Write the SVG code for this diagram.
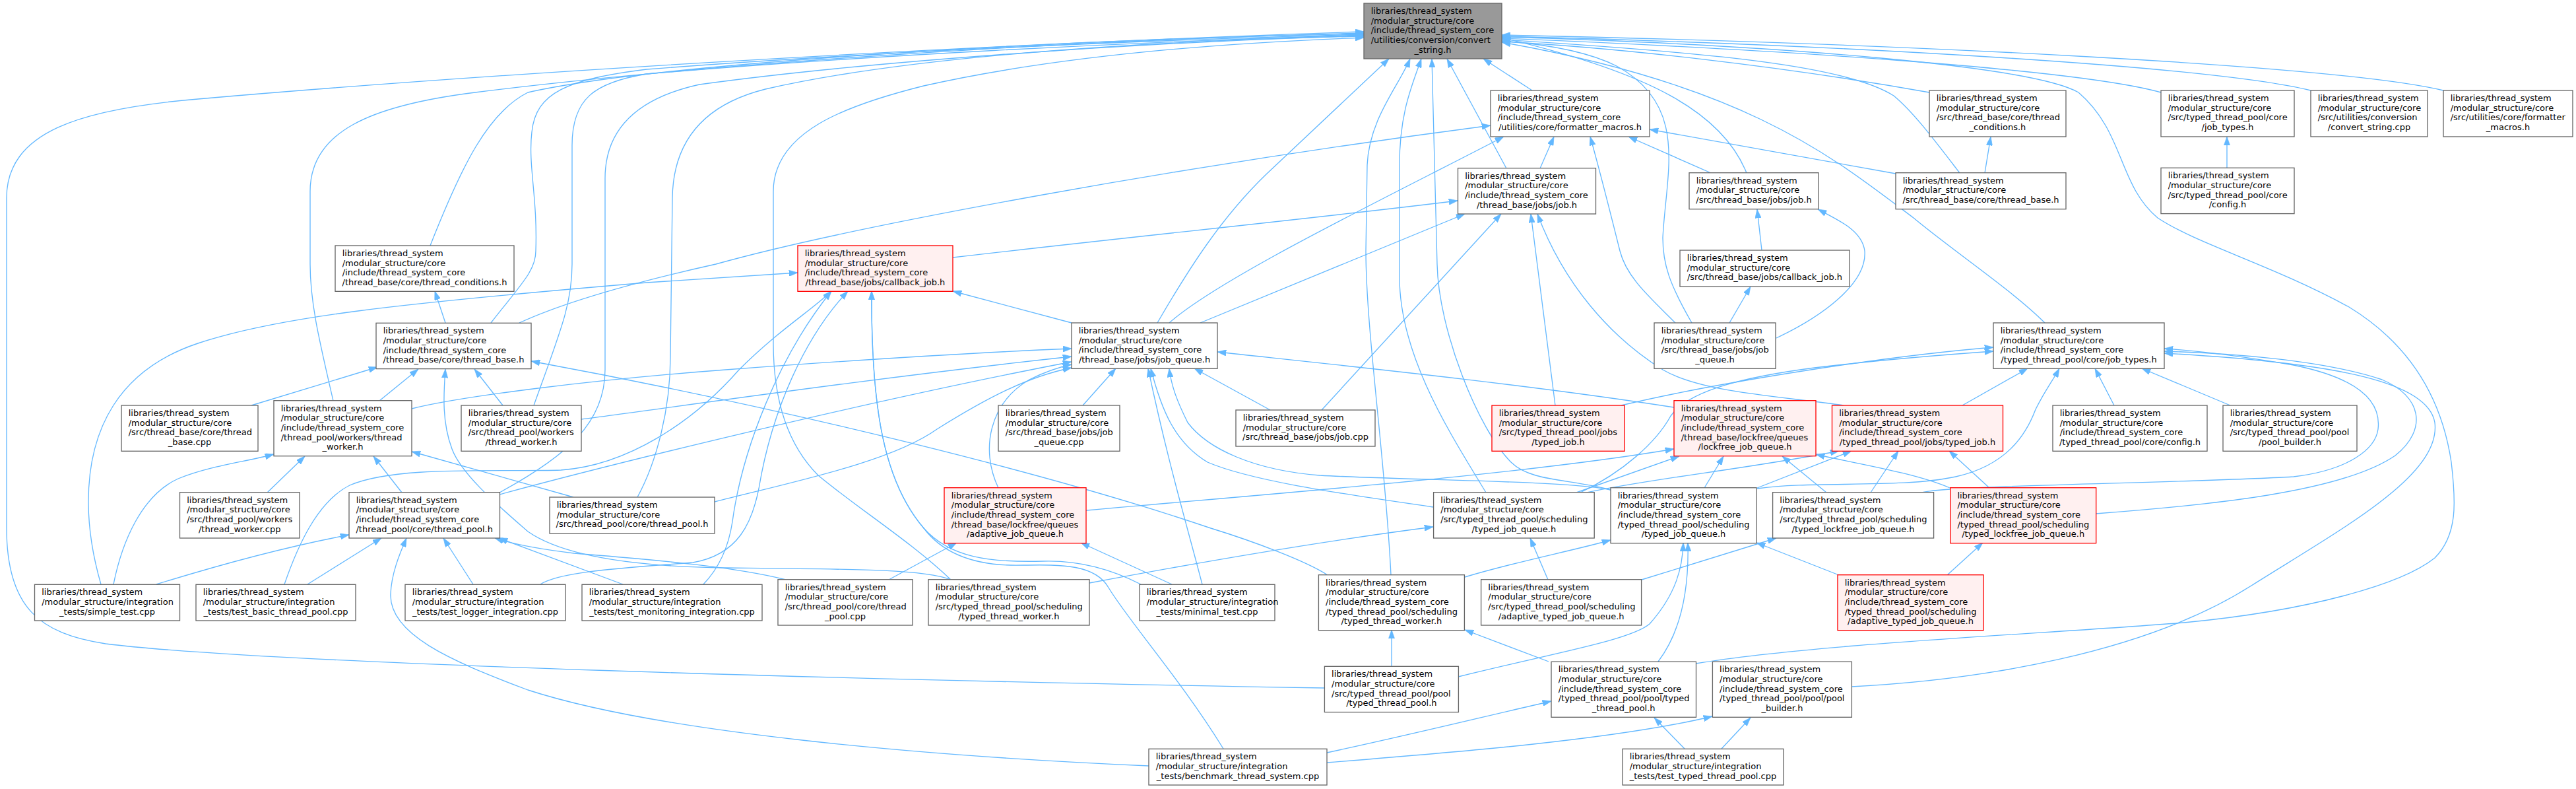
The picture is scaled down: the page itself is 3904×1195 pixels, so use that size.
<svg xmlns="http://www.w3.org/2000/svg" width="3904" height="1195" viewBox="0 0 3904 1195">
<style>
rect{fill:#fff;stroke:#666;stroke-width:1.33}
.r rect{fill:#fff0f0;stroke:#f00}
.m rect{fill:#999}
text{font-family:"DejaVu Sans",sans-serif;font-size:13px;fill:#000}
.c{text-anchor:middle}
#edges path{fill:none;stroke:#63b8ff;stroke-width:1.33;marker-end:url(#ah)}
</style>
<defs>
<marker id="ah" viewBox="0 0 10 7" refX="10" refY="3.5" markerWidth="13.3" markerHeight="9.3" markerUnits="userSpaceOnUse" orient="auto"><path d="M0,0L10,3.5L0,7z" fill="#63b8ff" stroke="#63b8ff" stroke-width="0.5"/></marker>
</defs>
<rect x="0" y="0" width="3904" height="1195" style="fill:#fff;stroke:none"/>
<g id="edges">
<path d="M2007,1042 C1300,1030 400,1005 160,975 C60,960 10,920 10,800 L10,300 C10,200 120,165 300,150 C700,115 1400,70 2067,48"/>
<path d="M505,607 C485,520 470,460 470,400 L470,290 C470,200 560,160 720,140 C1000,105 1500,65 2067,50"/>
<path d="M652,372 C700,250 740,170 800,140 C1000,95 1600,60 2067,51"/>
<path d="M744,489 C790,430 812,410 812,380 C815,300 800,250 806,200 C812,140 860,120 980,105 C1300,80 1700,62 2067,52"/>
<path d="M809,614 C850,500 867,460 867,400 L867,220 C867,150 900,125 980,112 C1300,85 1700,64 2067,53"/>
<path d="M757,746 C860,690 917,640 917,560 L917,270 C917,200 960,150 1060,128 C1300,95 1700,65 2067,54"/>
<path d="M966,753 C995,700 1016,620 1016,540 L1019,300 C1020,220 1060,160 1160,135 C1400,80 1800,60 2067,55"/>
<path d="M1441,878 C1380,820 1300,770 1240,720 C1190,670 1172,600 1172,520 L1172,290 C1172,200 1280,160 1400,130 C1600,85 1850,65 2067,57"/>
<path d="M1754,489 C1800,410 1850,330 1920,263 L2105,89"/>
<path d="M2108,871 C2100,700 2070,500 2070,380 L2072,250 C2075,180 2120,130 2137,89"/>
<path d="M2252,746 C2200,660 2121,540 2121,420 L2121,250 C2121,170 2140,130 2154,89"/>
<path d="M2441,742 C2380,725 2320,730 2290,700 C2240,650 2180,500 2178,400 L2170,89"/>
<path d="M2283,255 L2193,89"/>
<path d="M2322,137 L2248,89"/>
<path d="M2647,262 C2610,170 2500,110 2276,57"/>
<path d="M2564,489 C2530,430 2520,400 2520,360 C2525,260 2560,160 2450,100 C2400,75 2330,66 2276,62"/>
<path d="M3099,489 C3050,440 2960,380 2900,330 C2780,240 2650,130 2276,64"/>
<path d="M2970,262 C2930,210 2900,170 2870,145 C2800,100 2600,80 2276,60"/>
<path d="M2924,140 C2700,100 2450,72 2276,63"/>
<path d="M2570,1005 C2750,975 3100,960 3310,943 C3500,925 3640,885 3690,845 C3725,810 3722,760 3715,700 C3700,600 3650,520 3560,465 C3440,400 3330,370 3270,330 C3210,280 3220,200 3150,140 C3080,100 2700,68 2276,56"/>
<path d="M3275,140 C3150,105 2700,75 2276,58"/>
<path d="M3502,137 C3350,100 2800,68 2276,55"/>
<path d="M3703,137 C3550,100 2900,66 2276,53"/>
<path d="M1772,489 C1850,420 2100,300 2279,207"/>
<path d="M2334,255 L2355,207"/>
<path d="M2539,489 C2500,450 2465,420 2455,380 C2440,320 2425,260 2410,207"/>
<path d="M2593,262 L2468,207"/>
<path d="M2873,263 L2500,196"/>
<path d="M787,489 C850,460 950,430 1085,400 C1300,340 1800,250 2259,190"/>
<path d="M1444,390 C1700,360 2000,330 2209,304"/>
<path d="M1819,489 L2220,324"/>
<path d="M2003,621 L2275,324"/>
<path d="M2357,614 L2320,324"/>
<path d="M2794,614 C2700,600 2580,595 2520,560 C2440,510 2370,430 2330,324"/>
<path d="M2670,379 L2663,317"/>
<path d="M2692,512 C2760,480 2830,430 2826,380 C2822,350 2790,335 2755,317"/>
<path d="M3008,262 L3017,207"/>
<path d="M3375,254 L3375,207"/>
<path d="M675,489 L659,441"/>
<path d="M153,885 C140,840 134,800 134,760 C134,650 180,560 300,520 C420,480 600,460 980,428 L1209,413"/>
<path d="M1624,489 L1444,441"/>
<path d="M431,885 C450,830 480,760 530,735 C600,705 750,715 850,712 C950,705 1050,640 1120,560 C1180,500 1230,470 1260,441"/>
<path d="M1066,885 C1090,860 1104,830 1110,790 C1125,680 1180,540 1260,441"/>
<path d="M819,885 C850,865 950,860 1050,852 C1120,840 1140,790 1150,740 C1170,620 1220,510 1285,441"/>
<path d="M1729,885 C1690,865 1640,848 1580,850 C1500,852 1440,845 1400,800 C1340,730 1320,620 1321,441"/>
<path d="M1854,1134 C1790,1030 1710,940 1680,890 C1660,855 1610,855 1550,856 C1480,858 1430,840 1400,800 C1340,730 1320,620 1321,441"/>
<path d="M381,614 L572,556"/>
<path d="M575,607 L634,559"/>
<path d="M1441,878 C1400,862 1300,862 1100,860 C950,858 850,840 800,805 C760,770 700,720 685,680 C670,640 672,600 675,559"/>
<path d="M762,614 L719,559"/>
<path d="M2012,871 C1980,850 1900,820 1835,800 C1600,720 1200,620 805,547"/>
<path d="M172,885 C185,820 215,750 270,725 C320,705 370,700 415,688"/>
<path d="M405,746 L462,691"/>
<path d="M609,746 L566,691"/>
<path d="M869,753 L624,684"/>
<path d="M624,619 C700,600 900,575 1100,560 C1300,545 1450,535 1624,528"/>
<path d="M881,635 C1000,620 1300,575 1624,540"/>
<path d="M757,749 C900,710 1300,610 1624,548"/>
<path d="M1083,760 C1200,730 1350,700 1420,650 C1500,600 1560,570 1624,557"/>
<path d="M1513,739 C1485,680 1500,610 1560,575 C1590,560 1610,555 1624,552"/>
<path d="M2537,617 C2300,580 2000,550 1845,533"/>
<path d="M1641,614 L1691,558"/>
<path d="M1925,621 L1810,558"/>
<path d="M1822,885 C1800,800 1770,700 1740,558"/>
<path d="M2172,768 C2050,750 1900,730 1830,700 C1780,670 1760,620 1744,558"/>
<path d="M2441,742 C2380,728 2150,728 2000,720 C1900,712 1830,680 1800,640 C1785,610 1775,585 1772,558"/>
<path d="M237,885 C350,850 450,825 529,810"/>
<path d="M466,885 L578,815"/>
<path d="M1741,1160 C1400,1145 1000,1110 800,1045 C680,1000 590,960 592,900 C593,870 605,840 616,815"/>
<path d="M717,885 L672,815"/>
<path d="M944,885 L756,815"/>
<path d="M1191,878 C1100,855 950,845 870,838 C820,832 780,825 750,815"/>
<path d="M1347,878 L1450,822"/>
<path d="M1776,885 L1638,822"/>
<path d="M1646,773 C1900,750 2300,720 2537,680"/>
<path d="M2389,746 L2545,691"/>
<path d="M2583,739 L2612,691"/>
<path d="M2768,746 L2701,691"/>
<path d="M2955,739 C2900,715 2800,700 2752,688"/>
<path d="M2405,746 C2500,725 2650,710 2787,683"/>
<path d="M2663,739 L2806,683"/>
<path d="M2835,746 L2877,683"/>
<path d="M3015,739 L2954,683"/>
<path d="M2457,614 C2600,580 2850,540 3021,526"/>
<path d="M2395,746 C2460,715 2510,670 2532,630 C2560,590 2650,570 2750,557 C2850,545 2950,537 3021,532"/>
<path d="M2974,614 L3073,558"/>
<path d="M2663,740 C2750,728 2880,740 2964,722 C3040,705 3070,660 3085,620 C3100,590 3112,575 3121,558"/>
<path d="M3204,614 L3175,558"/>
<path d="M3380,614 L3246,558"/>
<path d="M2913,746 C2950,735 3300,732 3476,722 C3560,712 3600,680 3604,650 C3610,600 3560,570 3476,553 C3400,540 3340,532 3280,528"/>
<path d="M3176,778 C3350,765 3550,745 3630,690 C3680,650 3670,600 3610,575 C3520,545 3380,535 3280,532"/>
<path d="M2806,1040 C3000,1030 3250,990 3412,887 C3550,800 3700,720 3690,640 C3680,580 3550,550 3280,535"/>
<path d="M2621,489 L2653,434"/>
<path d="M1651,883 C1800,855 2000,820 2172,798"/>
<path d="M2346,878 L2319,815"/>
<path d="M2220,874 C2300,850 2380,835 2441,818"/>
<path d="M2210,1025 C2350,990 2470,970 2500,945 C2540,900 2550,860 2551,822"/>
<path d="M2513,1002 C2545,960 2560,900 2558,822"/>
<path d="M2787,871 L2662,822"/>
<path d="M2488,878 L2692,815"/>
<path d="M2951,871 L3005,822"/>
<path d="M2109,1009 L2109,954"/>
<path d="M2347,1002 L2220,954"/>
<path d="M2011,1140 C2150,1110 2250,1085 2351,1062"/>
<path d="M2553,1134 L2507,1087"/>
<path d="M2011,1155 C2200,1140 2450,1120 2595,1085"/>
<path d="M2609,1134 L2653,1087"/>
</g>
<g id="n0" class="m"><rect x="2067" y="5" width="209" height="84"/><text x="2077.7" y="21">libraries/thread_system</text><text x="2077.7" y="35.7">/modular_structure/core</text><text x="2077.7" y="50.3">/include/thread_system_core</text><text x="2077.7" y="65">/utilities/conversion/convert</text><text class="c" x="2171.5" y="79.7">_string.h</text></g>
<g id="n1"><rect x="2259" y="137" width="241" height="70"/><text x="2269.7" y="153">libraries/thread_system</text><text x="2269.7" y="167.7">/modular_structure/core</text><text x="2269.7" y="182.3">/include/thread_system_core</text><text class="c" x="2379.5" y="197">/utilities/core/formatter_macros.h</text></g>
<g id="n2"><rect x="2924" y="137" width="207" height="70"/><text x="2934.7" y="153">libraries/thread_system</text><text x="2934.7" y="167.7">/modular_structure/core</text><text x="2934.7" y="182.3">/src/thread_base/core/thread</text><text class="c" x="3027.5" y="197">_conditions.h</text></g>
<g id="n3"><rect x="3275" y="137" width="202" height="70"/><text x="3285.7" y="153">libraries/thread_system</text><text x="3285.7" y="167.7">/modular_structure/core</text><text x="3285.7" y="182.3">/src/typed_thread_pool/core</text><text class="c" x="3376" y="197">/job_types.h</text></g>
<g id="n4"><rect x="3502" y="137" width="177" height="70"/><text x="3512.7" y="153">libraries/thread_system</text><text x="3512.7" y="167.7">/modular_structure/core</text><text x="3512.7" y="182.3">/src/utilities/conversion</text><text class="c" x="3590.5" y="197">/convert_string.cpp</text></g>
<g id="n5"><rect x="3703" y="137" width="196" height="70"/><text x="3713.7" y="153">libraries/thread_system</text><text x="3713.7" y="167.7">/modular_structure/core</text><text x="3713.7" y="182.3">/src/utilities/core/formatter</text><text class="c" x="3801" y="197">_macros.h</text></g>
<g id="n6"><rect x="2209.5" y="254.7" width="209" height="69.3"/><text x="2220.2" y="270.7">libraries/thread_system</text><text x="2220.2" y="285.4">/modular_structure/core</text><text x="2220.2" y="300">/include/thread_system_core</text><text class="c" x="2314" y="314.7">/thread_base/jobs/job.h</text></g>
<g id="n7"><rect x="2560" y="261.7" width="196" height="55"/><text x="2570.7" y="277.7">libraries/thread_system</text><text x="2570.7" y="292.4">/modular_structure/core</text><text class="c" x="2658" y="307">/src/thread_base/jobs/job.h</text></g>
<g id="n8"><rect x="2873" y="261.7" width="258" height="55"/><text x="2883.7" y="277.7">libraries/thread_system</text><text x="2883.7" y="292.4">/modular_structure/core</text><text class="c" x="3002" y="307">/src/thread_base/core/thread_base.h</text></g>
<g id="n9"><rect x="3275" y="254.3" width="202" height="69.3"/><text x="3285.7" y="270.3">libraries/thread_system</text><text x="3285.7" y="285">/modular_structure/core</text><text x="3285.7" y="299.7">/src/typed_thread_pool/core</text><text class="c" x="3376" y="314.3">/config.h</text></g>
<g id="n10"><rect x="508" y="372" width="271" height="69.3"/><text x="518.7" y="388">libraries/thread_system</text><text x="518.7" y="402.7">/modular_structure/core</text><text x="518.7" y="417.3">/include/thread_system_core</text><text class="c" x="643.5" y="432">/thread_base/core/thread_conditions.h</text></g>
<g id="n11" class="r"><rect x="1209" y="372" width="235" height="69.3"/><text x="1219.7" y="388">libraries/thread_system</text><text x="1219.7" y="402.7">/modular_structure/core</text><text x="1219.7" y="417.3">/include/thread_system_core</text><text class="c" x="1326.5" y="432">/thread_base/jobs/callback_job.h</text></g>
<g id="n12"><rect x="2546" y="379" width="257" height="55"/><text x="2556.7" y="395">libraries/thread_system</text><text x="2556.7" y="409.7">/modular_structure/core</text><text class="c" x="2674.5" y="424.3">/src/thread_base/jobs/callback_job.h</text></g>
<g id="n13"><rect x="570" y="489.3" width="235" height="69.3"/><text x="580.7" y="505.3">libraries/thread_system</text><text x="580.7" y="520">/modular_structure/core</text><text x="580.7" y="534.7">/include/thread_system_core</text><text class="c" x="687.5" y="549.3">/thread_base/core/thread_base.h</text></g>
<g id="n14"><rect x="1624" y="489" width="221" height="69.3"/><text x="1634.7" y="505">libraries/thread_system</text><text x="1634.7" y="519.7">/modular_structure/core</text><text x="1634.7" y="534.3">/include/thread_system_core</text><text class="c" x="1734.5" y="549">/thread_base/jobs/job_queue.h</text></g>
<g id="n15"><rect x="2507" y="489" width="184" height="69.3"/><text x="2517.7" y="505">libraries/thread_system</text><text x="2517.7" y="519.7">/modular_structure/core</text><text x="2517.7" y="534.3">/src/thread_base/jobs/job</text><text class="c" x="2599" y="549">_queue.h</text></g>
<g id="n16"><rect x="3021" y="489" width="259" height="69.3"/><text x="3031.7" y="505">libraries/thread_system</text><text x="3031.7" y="519.7">/modular_structure/core</text><text x="3031.7" y="534.3">/include/thread_system_core</text><text class="c" x="3150.5" y="549">/typed_thread_pool/core/job_types.h</text></g>
<g id="n17"><rect x="184" y="614" width="207" height="69.3"/><text x="194.7" y="630">libraries/thread_system</text><text x="194.7" y="644.7">/modular_structure/core</text><text x="194.7" y="659.3">/src/thread_base/core/thread</text><text class="c" x="287.5" y="674">_base.cpp</text></g>
<g id="n18"><rect x="415" y="606.7" width="209" height="84"/><text x="425.7" y="622.7">libraries/thread_system</text><text x="425.7" y="637.4">/modular_structure/core</text><text x="425.7" y="652">/include/thread_system_core</text><text x="425.7" y="666.7">/thread_pool/workers/thread</text><text class="c" x="519.5" y="681.4">_worker.h</text></g>
<g id="n19"><rect x="699" y="614" width="182" height="69.3"/><text x="709.7" y="630">libraries/thread_system</text><text x="709.7" y="644.7">/modular_structure/core</text><text x="709.7" y="659.3">/src/thread_pool/workers</text><text class="c" x="790" y="674">/thread_worker.h</text></g>
<g id="n20"><rect x="1513" y="614" width="184" height="69.3"/><text x="1523.7" y="630">libraries/thread_system</text><text x="1523.7" y="644.7">/modular_structure/core</text><text x="1523.7" y="659.3">/src/thread_base/jobs/job</text><text class="c" x="1605" y="674">_queue.cpp</text></g>
<g id="n21"><rect x="1873" y="621" width="211" height="55"/><text x="1883.7" y="637">libraries/thread_system</text><text x="1883.7" y="651.7">/modular_structure/core</text><text class="c" x="1978.5" y="666.3">/src/thread_base/jobs/job.cpp</text></g>
<g id="n22" class="r"><rect x="2261" y="614" width="201" height="69.3"/><text x="2271.7" y="630">libraries/thread_system</text><text x="2271.7" y="644.7">/modular_structure/core</text><text x="2271.7" y="659.3">/src/typed_thread_pool/jobs</text><text class="c" x="2361.5" y="674">/typed_job.h</text></g>
<g id="n23" class="r"><rect x="2537" y="606.7" width="215" height="84"/><text x="2547.7" y="622.7">libraries/thread_system</text><text x="2547.7" y="637.4">/modular_structure/core</text><text x="2547.7" y="652">/include/thread_system_core</text><text x="2547.7" y="666.7">/thread_base/lockfree/queues</text><text class="c" x="2644.5" y="681.4">/lockfree_job_queue.h</text></g>
<g id="n24" class="r"><rect x="2776.5" y="614" width="259" height="69.3"/><text x="2787.2" y="630">libraries/thread_system</text><text x="2787.2" y="644.7">/modular_structure/core</text><text x="2787.2" y="659.3">/include/thread_system_core</text><text class="c" x="2906" y="674">/typed_thread_pool/jobs/typed_job.h</text></g>
<g id="n25"><rect x="3111" y="614" width="234" height="69.3"/><text x="3121.7" y="630">libraries/thread_system</text><text x="3121.7" y="644.7">/modular_structure/core</text><text x="3121.7" y="659.3">/include/thread_system_core</text><text class="c" x="3228" y="674">/typed_thread_pool/core/config.h</text></g>
<g id="n26"><rect x="3369" y="614" width="203" height="69.3"/><text x="3379.7" y="630">libraries/thread_system</text><text x="3379.7" y="644.7">/modular_structure/core</text><text x="3379.7" y="659.3">/src/typed_thread_pool/pool</text><text class="c" x="3470.5" y="674">/pool_builder.h</text></g>
<g id="n27"><rect x="272.5" y="745.7" width="181.5" height="69.3"/><text x="283.2" y="761.7">libraries/thread_system</text><text x="283.2" y="776.4">/modular_structure/core</text><text x="283.2" y="791">/src/thread_pool/workers</text><text class="c" x="363.2" y="805.7">/thread_worker.cpp</text></g>
<g id="n28"><rect x="529" y="745.7" width="228.5" height="69.3"/><text x="539.7" y="761.7">libraries/thread_system</text><text x="539.7" y="776.4">/modular_structure/core</text><text x="539.7" y="791">/include/thread_system_core</text><text class="c" x="643.2" y="805.7">/thread_pool/core/thread_pool.h</text></g>
<g id="n29"><rect x="833" y="753" width="250" height="55"/><text x="843.7" y="769">libraries/thread_system</text><text x="843.7" y="783.7">/modular_structure/core</text><text class="c" x="958" y="798.3">/src/thread_pool/core/thread_pool.h</text></g>
<g id="n30" class="r"><rect x="1431" y="738.7" width="215" height="84"/><text x="1441.7" y="754.7">libraries/thread_system</text><text x="1441.7" y="769.4">/modular_structure/core</text><text x="1441.7" y="784">/include/thread_system_core</text><text x="1441.7" y="798.7">/thread_base/lockfree/queues</text><text class="c" x="1538.5" y="813.4">/adaptive_job_queue.h</text></g>
<g id="n31"><rect x="2172.6" y="745.7" width="243.6" height="69.3"/><text x="2183.3" y="761.7">libraries/thread_system</text><text x="2183.3" y="776.4">/modular_structure/core</text><text x="2183.3" y="791">/src/typed_thread_pool/scheduling</text><text class="c" x="2294.4" y="805.7">/typed_job_queue.h</text></g>
<g id="n32"><rect x="2441" y="738.7" width="221" height="84"/><text x="2451.7" y="754.7">libraries/thread_system</text><text x="2451.7" y="769.4">/modular_structure/core</text><text x="2451.7" y="784">/include/thread_system_core</text><text x="2451.7" y="798.7">/typed_thread_pool/scheduling</text><text class="c" x="2551.5" y="813.4">/typed_job_queue.h</text></g>
<g id="n33"><rect x="2686.6" y="745.7" width="244" height="69.3"/><text x="2697.3" y="761.7">libraries/thread_system</text><text x="2697.3" y="776.4">/modular_structure/core</text><text x="2697.3" y="791">/src/typed_thread_pool/scheduling</text><text class="c" x="2808.6" y="805.7">/typed_lockfree_job_queue.h</text></g>
<g id="n34" class="r"><rect x="2955.7" y="738.7" width="221" height="84"/><text x="2966.4" y="754.7">libraries/thread_system</text><text x="2966.4" y="769.4">/modular_structure/core</text><text x="2966.4" y="784">/include/thread_system_core</text><text x="2966.4" y="798.7">/typed_thread_pool/scheduling</text><text class="c" x="3066.2" y="813.4">/typed_lockfree_job_queue.h</text></g>
<g id="n35"><rect x="52.5" y="885.3" width="220" height="54.7"/><text x="63.2" y="901.3">libraries/thread_system</text><text x="63.2" y="916">/modular_structure/integration</text><text class="c" x="162.5" y="930.7">_tests/simple_test.cpp</text></g>
<g id="n36"><rect x="297" y="885.3" width="242" height="54.7"/><text x="307.7" y="901.3">libraries/thread_system</text><text x="307.7" y="916">/modular_structure/integration</text><text class="c" x="418" y="930.7">_tests/test_basic_thread_pool.cpp</text></g>
<g id="n37"><rect x="614" y="885.3" width="243" height="54.7"/><text x="624.7" y="901.3">libraries/thread_system</text><text x="624.7" y="916">/modular_structure/integration</text><text class="c" x="735.5" y="930.7">_tests/test_logger_integration.cpp</text></g>
<g id="n38"><rect x="882" y="885.3" width="273" height="54.7"/><text x="892.7" y="901.3">libraries/thread_system</text><text x="892.7" y="916">/modular_structure/integration</text><text class="c" x="1018.5" y="930.7">_tests/test_monitoring_integration.cpp</text></g>
<g id="n39"><rect x="1179" y="877.7" width="204" height="69.3"/><text x="1189.7" y="893.7">libraries/thread_system</text><text x="1189.7" y="908.4">/modular_structure/core</text><text x="1189.7" y="923">/src/thread_pool/core/thread</text><text class="c" x="1281" y="937.7">_pool.cpp</text></g>
<g id="n40"><rect x="1407" y="877.7" width="244" height="69.3"/><text x="1417.7" y="893.7">libraries/thread_system</text><text x="1417.7" y="908.4">/modular_structure/core</text><text x="1417.7" y="923">/src/typed_thread_pool/scheduling</text><text class="c" x="1529" y="937.7">/typed_thread_worker.h</text></g>
<g id="n41"><rect x="1727" y="885.3" width="205" height="54.7"/><text x="1737.7" y="901.3">libraries/thread_system</text><text x="1737.7" y="916">/modular_structure/integration</text><text class="c" x="1829.5" y="930.7">_tests/minimal_test.cpp</text></g>
<g id="n42"><rect x="1998.4" y="870.7" width="221" height="84"/><text x="2009.1" y="886.7">libraries/thread_system</text><text x="2009.1" y="901.4">/modular_structure/core</text><text x="2009.1" y="916">/include/thread_system_core</text><text x="2009.1" y="930.7">/typed_thread_pool/scheduling</text><text class="c" x="2108.9" y="945.4">/typed_thread_worker.h</text></g>
<g id="n43"><rect x="2244.6" y="877.7" width="243" height="69.3"/><text x="2255.3" y="893.7">libraries/thread_system</text><text x="2255.3" y="908.4">/modular_structure/core</text><text x="2255.3" y="923">/src/typed_thread_pool/scheduling</text><text class="c" x="2366.1" y="937.7">/adaptive_typed_job_queue.h</text></g>
<g id="n44" class="r"><rect x="2785" y="870.7" width="221" height="84"/><text x="2795.7" y="886.7">libraries/thread_system</text><text x="2795.7" y="901.4">/modular_structure/core</text><text x="2795.7" y="916">/include/thread_system_core</text><text x="2795.7" y="930.7">/typed_thread_pool/scheduling</text><text class="c" x="2895.5" y="945.4">/adaptive_typed_job_queue.h</text></g>
<g id="n45"><rect x="2007.4" y="1009.3" width="203" height="69.3"/><text x="2018.1" y="1025.3">libraries/thread_system</text><text x="2018.1" y="1040">/modular_structure/core</text><text x="2018.1" y="1054.7">/src/typed_thread_pool/pool</text><text class="c" x="2108.9" y="1069.3">/typed_thread_pool.h</text></g>
<g id="n46"><rect x="2351" y="1002.3" width="219.5" height="84"/><text x="2361.7" y="1018.3">libraries/thread_system</text><text x="2361.7" y="1033">/modular_structure/core</text><text x="2361.7" y="1047.7">/include/thread_system_core</text><text x="2361.7" y="1062.3">/typed_thread_pool/pool/typed</text><text class="c" x="2460.7" y="1077">_thread_pool.h</text></g>
<g id="n47"><rect x="2595.4" y="1002.3" width="211" height="84"/><text x="2606.1" y="1018.3">libraries/thread_system</text><text x="2606.1" y="1033">/modular_structure/core</text><text x="2606.1" y="1047.7">/include/thread_system_core</text><text x="2606.1" y="1062.3">/typed_thread_pool/pool/pool</text><text class="c" x="2700.9" y="1077">_builder.h</text></g>
<g id="n48"><rect x="1741" y="1134.3" width="270" height="54.7"/><text x="1751.7" y="1150.3">libraries/thread_system</text><text x="1751.7" y="1165">/modular_structure/integration</text><text class="c" x="1876" y="1179.7">_tests/benchmark_thread_system.cpp</text></g>
<g id="n49"><rect x="2459" y="1134.3" width="244" height="54.7"/><text x="2469.7" y="1150.3">libraries/thread_system</text><text x="2469.7" y="1165">/modular_structure/integration</text><text class="c" x="2581" y="1179.7">_tests/test_typed_thread_pool.cpp</text></g>
</svg>
